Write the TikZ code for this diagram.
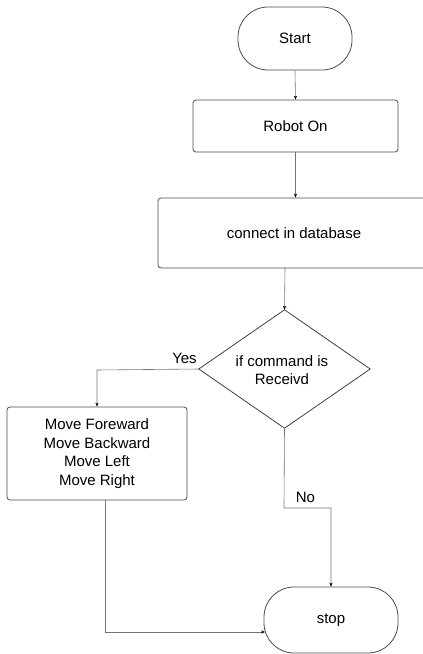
\documentclass[tikz,border=0pt]{standalone}
\usepackage{fontspec}
\setmainfont{Liberation Sans}
\usetikzlibrary{shapes.geometric,arrows.meta}
\begin{document}
\begin{tikzpicture}[x=1pt,y=-1pt,
  box/.style={draw=black!70, line width=0.8pt, rounded corners=3pt, fill=white, align=center, font=\fontsize{15}{18.5}\selectfont, inner sep=0pt},
  term/.style={draw=black!70, line width=0.8pt, rounded corners=30pt, fill=white, font=\fontsize{15}{18}\selectfont, inner sep=0pt},
  dec/.style={draw=black!75, line width=0.8pt, diamond, fill=white, align=center, font=\fontsize{15}{18}\selectfont, inner sep=0pt},
  conn/.style={draw=black!55, line width=0.6pt, -{Stealth[length=4pt,width=3.2pt,black]}},
  lbl/.style={font=\fontsize{15}{18}\selectfont, inner sep=0pt}]
\useasboundingbox (0,0) rectangle (423,654);
\node[term, minimum width=114pt, minimum height=63pt] (start) at (295,38.5) {Start};
\node[box, minimum width=205pt, minimum height=52pt] (robot) at (295.5,126) {Robot On};
\node[box, minimum width=272pt, minimum height=70pt] (conn) at (294,233) {connect in database};
\node[draw=none, minimum width=171pt, minimum height=118pt] (dia) at (284.5,369) {};
\draw[black!75, line width=0.8pt, fill=white, line join=miter]
  (dia.north) -- (dia.east) -- (dia.south) -- (dia.west) -- cycle;
\node[font=\fontsize{15}{18}\selectfont, align=center] (diatext) at (282,370) {if command is\\Receivd};
\node[box, minimum width=180pt, minimum height=93pt] (move) at (97,453.5) {Move Foreward\\Move Backward\\Move Left\\Move Right};
\node[term, minimum width=134pt, minimum height=66pt] (stop) at (331,620) {stop};
\coordinate (conout) at (285,268);
\coordinate (noturn1) at (284,508);
\coordinate (noturn2) at (331,508);
\coordinate (yesturn) at (97,370);
\coordinate (mvout) at (105,500);
\coordinate (mvturn) at (105,632);
\coordinate (stopin) at (265,632);
\draw[conn] (start.south) -- (robot.north);
\draw[conn] (robot.south) -- (robot.south |- conn.north);
\draw[conn] (conout) -- (dia.north);
\draw[conn] (dia.west) -- (yesturn) -- (move.north);
\draw[conn] (dia.south) -- (noturn1) -- (noturn2) -- (stop.north);
\draw[conn] (mvout) -- (mvturn) -- (stopin);
\node[lbl] (yes) at (184.5,358) {Yes};
\node[lbl] (no) at (305.5,497) {No};
\end{tikzpicture}
\end{document}
